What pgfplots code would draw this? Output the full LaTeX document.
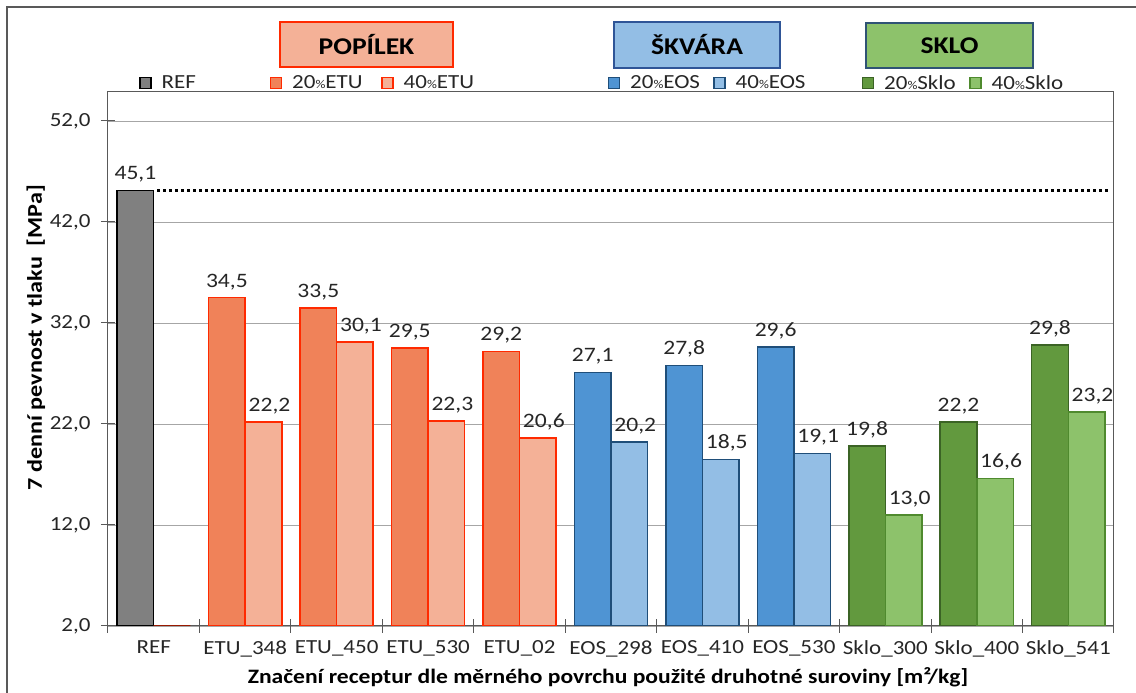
\documentclass[border=0pt]{standalone}
\usepackage{pgfplots}
\pgfplotsset{compat=1.18}
\usepackage{fontspec}
\setmainfont{Carlito}[FakeStretch=1.15]
\definecolor{refc}{HTML}{808080}
\definecolor{etuA}{HTML}{F08259}
\definecolor{etuB}{HTML}{F4B197}
\definecolor{etuE}{HTML}{FF2A00}
\definecolor{eosA}{HTML}{4F94D3}
\definecolor{eosB}{HTML}{93BEE5}
\definecolor{eosE}{HTML}{1F4E79}
\definecolor{skA}{HTML}{62993E}
\definecolor{skB}{HTML}{8DC26B}
\definecolor{skE}{HTML}{3B6325}
\definecolor{skEB}{HTML}{4F8A2E}
\definecolor{boxblue}{HTML}{2F5597}
\definecolor{boxsk}{HTML}{2F5375}
\definecolor{axisgray}{HTML}{595959}
\definecolor{gridgray}{HTML}{A6A6A6}
\definecolor{txt}{HTML}{262626}
\begin{document}
\begin{tikzpicture}
\useasboundingbox (-108pt,-67pt) rectangle (1028pt,626pt);
\begin{axis}[
  scale only axis, width=1006pt, height=534pt,
  at={(0pt,0pt)}, anchor=south west,
  xmin=-0.5, xmax=10.5, ymin=2, ymax=54.87,
  ybar, bar width=0.4,
  axis line style={draw=axisgray, line width=1pt},
  ytick={2,12,...,52},
  xtick={-0.5,0.5,...,10.5},
  x tick label as interval,
  xticklabels={REF,ETU\_348,ETU\_450,ETU\_530,ETU\_02,EOS\_298,EOS\_410,EOS\_530,Sklo\_300,Sklo\_400,Sklo\_541},
  tick pos=left,
  tick align=center, major tick length=14pt,
  tick style={draw=axisgray, line width=1pt},
  ymajorgrids, y grid style={gridgray, line width=0.8pt},
  ticklabel style={font=\fontsize{20}{20}\selectfont, text=txt},
  yticklabel style={xshift=-7pt},
  xticklabel style={yshift=-4pt},
  ylabel={7 denní pevnost v tlaku~~[MPa]},
  ylabel style={at={(axis description cs:-0.0716,0.54)}, anchor=center, font=\bfseries\fontsize{21}{21}\selectfont, text=black},
  xlabel={Značení receptur dle měrného povrchu použité druhotné suroviny [m²/kg]},
  xlabel style={at={(axis description cs:0.497,-0.1086)}, anchor=base, font=\bfseries\fontsize{20.5}{20.5}\selectfont, text=black},
  nodes near coords={\pgfmathprintnumber[fixed,fixed zerofill,precision=1,use comma,assume math mode=true]{\pgfplotspointmeta}},
  every node near coord/.append style={font=\fontsize{20.5}{20.5}\selectfont, text=txt, yshift=4pt},
  legend columns=7,
  legend style={at={(axis description cs:0,1)}, anchor=west, xshift=31pt, yshift=9pt,
    draw=none, fill=none, inner sep=0pt, column sep=10pt,
    /tikz/every even column/.append style={column sep=0pt},
    font=\fontsize{20}{20}\selectfont, text=txt, nodes={inner sep=0pt}},
  legend image code/.code={\draw[#1] (0pt,-5.5pt) rectangle (11pt,5.5pt);},
  /pgf/number format/.cd, use comma, fixed, fixed zerofill, precision=1, assume math mode=true
]
\addplot[fill=refc, draw=black, line width=1.5pt, bar shift=-0.2] coordinates {(0,45.1)};
\addplot[fill=etuA, draw=etuE, line width=1.5pt, bar shift=-0.2] coordinates {(1,34.5) (2,33.5) (3,29.5) (4,29.2)};
\addplot[fill=etuB, draw=etuE, line width=1.5pt, bar shift=0.2, every node near coord/.append style={xshift=6pt}] coordinates {(1,22.2) (2,30.1) (3,22.3) (4,20.6)};
\addplot[fill=eosA, draw=eosE, line width=1.5pt, bar shift=-0.2] coordinates {(5,27.1) (6,27.8) (7,29.6)};
\addplot[fill=eosB, draw=eosE, line width=1.5pt, bar shift=0.2, every node near coord/.append style={xshift=6pt}] coordinates {(5,20.2) (6,18.5) (7,19.1)};
\addplot[fill=skA, draw=skE, line width=1.5pt, bar shift=-0.2] coordinates {(8,19.8) (9,22.2) (10,29.8)};
\addplot[fill=skB, draw=skEB, line width=1.5pt, bar shift=0.2, every node near coord/.append style={xshift=6pt}] coordinates {(8,13.0) (9,16.6) (10,23.2)};
\addplot[forget plot, draw=etuE!60!black, fill=none, line width=1.5pt, bar shift=0.2, nodes near coords={}] coordinates {(0,2.0)};
\addplot[sharp plot, forget plot, nodes near coords={}, black, line width=3pt, dash pattern=on 3pt off 3pt] coordinates {(0.04,45.1) (10.45,45.1)};
\legend{\makebox[108pt][l]{REF},
  \makebox[89pt][l]{20{\fontsize{12}{12}\selectfont\%}ETU},
  \makebox[204pt][l]{40{\fontsize{12}{12}\selectfont\%}ETU},
  \makebox[83pt][l]{20{\fontsize{12}{12}\selectfont\%}EOS},
  \makebox[126pt][l]{40{\fontsize{12}{12}\selectfont\%}EOS},
  \makebox[85pt][l]{20{\fontsize{12}{12}\selectfont\%}Sklo},
  40{\fontsize{12}{12}\selectfont\%}Sklo}
\end{axis}
\draw[line width=1.5pt, draw=axisgray] (-101pt,-67pt) -- (-101pt,619pt) -- (1028pt,619pt);
\node[draw=etuE, fill=etuB, line width=1.5pt, minimum width=173pt, minimum height=45pt, inner sep=0pt, font=\bfseries\fontsize{24}{24}\selectfont] at (258.5pt,581.5pt) {POPÍLEK};
\node[draw=boxblue, fill=eosB, line width=1.5pt, minimum width=166pt, minimum height=46pt, inner sep=0pt, font=\bfseries\fontsize{24}{24}\selectfont] at (589pt,581pt) {ŠKVÁRA};
\node[draw=boxsk, fill=skB, line width=1.5pt, minimum width=167pt, minimum height=45pt, inner sep=0pt, font=\bfseries\fontsize{24}{24}\selectfont] at (841.5pt,580.5pt) {SKLO};
\end{tikzpicture}
\end{document}
